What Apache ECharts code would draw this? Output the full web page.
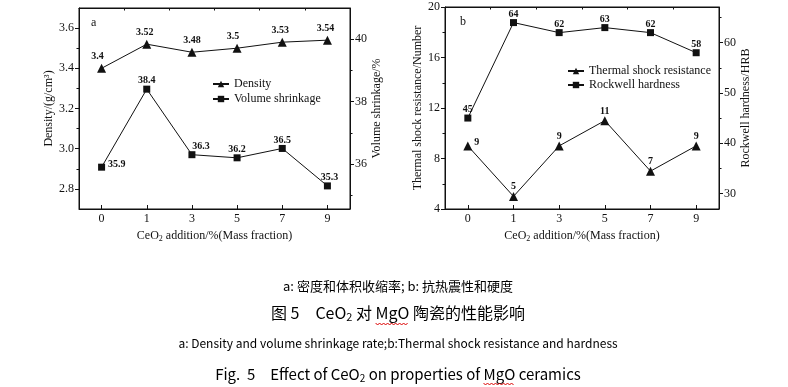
<!DOCTYPE html>
<html><head><meta charset="utf-8">
<script src="https://cdn.jsdelivr.net/npm/echarts@6/dist/echarts.min.js"></script>
<style>html,body{margin:0;padding:0;background:#fff}#c{width:788px;height:387px}</style>
</head><body><div id="c"></div>
<script>
const categories = ['0', '1', '3', '5', '7', '9'];
const density = [3.4, 3.52, 3.48, 3.5, 3.53, 3.54];
const shrinkage = [35.9, 38.4, 36.3, 36.2, 36.5, 35.3];
const thermal = [9, 5, 9, 11, 7, 9];
const hardness = [45, 64, 62, 63, 62, 58];
const densityTicks = [2.8, 3.0, 3.2, 3.4, 3.6];
const densityMinor = [2.9, 3.1, 3.3, 3.5];
const shrinkTicks = [36, 38, 40];
const shrinkMinor = [35, 37, 39];
const thermalTicks = [4, 8, 12, 16, 20];
const thermalMinor = [6, 10, 14, 18];
const hardnessTicks = [30, 40, 50, 60];
const hardnessMinor = [35, 45, 55, 65];

const SERIF = '"Liberation Serif","Times New Roman",serif';
const CJK = '"Noto Sans CJK SC","Noto Sans",sans-serif';
const BLACK = '#111';

function yPair(grid, pos, min, max, major, minor, name, nameGap, fmt) {
  return [{
    type: 'value', gridIndex: grid, position: pos, min: min, max: max,
    axisLine: {show: true, lineStyle: {color: BLACK, width: 1}},
    axisTick: {show: true, inside: false, length: 4, customValues: major, lineStyle: {color: BLACK}},
    axisLabel: {show: true, customValues: major, margin: 5, color: BLACK, fontFamily: SERIF, fontSize: 12,
      formatter: fmt || (v => String(v))},
    splitLine: {show: false},
    name: name, nameLocation: 'middle', nameGap: nameGap, nameRotate: 90,
    nameTextStyle: {color: BLACK, fontFamily: SERIF, fontSize: 12}
  }, {
    type: 'value', gridIndex: grid, position: pos, min: min, max: max,
    axisLine: {show: false},
    axisTick: {show: true, inside: false, length: 2.5, customValues: minor, lineStyle: {color: BLACK}},
    axisLabel: {show: false},
    splitLine: {show: false}
  }];
}

function xSet(grid) {
  return [{
    type: 'category', gridIndex: grid, data: categories, boundaryGap: true,
    axisLine: {show: true, lineStyle: {color: BLACK}},
    axisTick: {show: true, alignWithLabel: true, inside: true, length: 4, lineStyle: {color: BLACK}},
    axisLabel: {margin: 4, color: BLACK, fontFamily: SERIF, fontSize: 12},
    splitLine: {show: false},
    name: 'CeO{s|2} addition/%(Mass fraction)', nameLocation: 'middle', nameGap: 14,
    nameTextStyle: {color: BLACK, fontFamily: SERIF, fontSize: 12,
      rich: {s: {fontFamily: SERIF, fontSize: 8, color: BLACK, padding: [7, 0, 0, 0]}}}
  }, {
    type: 'category', gridIndex: grid, data: categories, boundaryGap: true,
    axisLine: {show: false},
    axisTick: {show: true, inside: true, length: 2.5, lineStyle: {color: BLACK}},
    axisLabel: {show: false},
    splitLine: {show: false}
  }, {
    type: 'category', gridIndex: grid, data: categories, boundaryGap: true, position: 'top',
    axisLine: {show: true, lineStyle: {color: BLACK}},
    axisTick: {show: false}, axisLabel: {show: false}, splitLine: {show: false}
  }];
}

const lblBase = {show: true, color: BLACK, fontFamily: SERIF, fontSize: 10, fontWeight: 'bold'};

function mk(values, tweaks) {
  return values.map((v, i) => tweaks[i] ? {value: v, label: tweaks[i]} : v);
}

const densityLbl = [{offset: [-4, 0]}, {offset: [-2, 0]}, null, {offset: [-4, 0]}, {offset: [-2, 0]}, {offset: [-2, 0]}];
const shrinkLbl = [{position: 'right', distance: 3, offset: [0, -3]}, null, {offset: [9, 0]}, null, null, {offset: [2, 0]}];
const thermalLbl = [{position: 'right', distance: 2, offset: [0, -3]}, null, null, null, null, null];
const hardnessLbl = [null, null, null, null, null, null];

const series = [
  {name: 'Density', type: 'line', xAxisIndex: 0, yAxisIndex: 0, data: mk(density, densityLbl),
   symbol: 'triangle', symbolSize: 9, lineStyle: {color: BLACK, width: 1}, itemStyle: {color: BLACK},
   label: Object.assign({position: 'top', distance: 2}, lblBase)},
  {name: 'Volume shrinkage', type: 'line', xAxisIndex: 0, yAxisIndex: 2, data: mk(shrinkage, shrinkLbl),
   symbol: 'rect', symbolSize: 7, lineStyle: {color: BLACK, width: 1}, itemStyle: {color: BLACK},
   label: Object.assign({position: 'top', distance: 0}, lblBase)},
  {name: 'Thermal shock resistance', type: 'line', xAxisIndex: 3, yAxisIndex: 4, data: mk(thermal, thermalLbl),
   symbol: 'triangle', symbolSize: 9, lineStyle: {color: BLACK, width: 1}, itemStyle: {color: BLACK},
   label: Object.assign({position: 'top', distance: 0}, lblBase)},
  {name: 'Rockwell hardness', type: 'line', xAxisIndex: 3, yAxisIndex: 6, data: mk(hardness, hardnessLbl),
   symbol: 'rect', symbolSize: 7, lineStyle: {color: BLACK, width: 1}, itemStyle: {color: BLACK},
   label: Object.assign({position: 'top', distance: 0}, lblBase)}
];

// measure caption text so the red spell-check underline sits under "MgO"
const ctx = document.createElement('canvas').getContext('2d');
function w(txt, font) { ctx.font = font; return ctx.measureText(txt).width; }
function wavyUnder(parts, cx, y) {
  // parts: [[text, font, isTarget]]
  let total = 0; parts.forEach(p => total += w(p[0], p[1]));
  let x = cx - total / 2, x0 = 0, x1 = 0;
  parts.forEach(p => { const ww = w(p[0], p[1]); if (p[2]) { x0 = x; x1 = x + ww; } x += ww; });
  const pts = []; let up = true;
  for (let xx = x0; xx <= x1; xx += 2) { pts.push([xx, y + (up ? -1 : 1)]); up = !up; }
  return {type: 'polyline', shape: {points: pts}, style: {stroke: '#d00', lineWidth: 1, fill: null}, silent: true};
}

const F16 = '16px ' + CJK, F15 = '15px ' + CJK, F11 = '11px ' + CJK, F10 = '10px ' + CJK;
const legendText = {color: BLACK, fontFamily: SERIF, fontSize: 12};
const center = {align: 'center', verticalAlign: 'middle', textAlign: 'center', textVerticalAlign: 'middle'};

const option = {
  backgroundColor: '#fff',
  animation: false,
  grid: [
    {left: 79, top: 8, width: 271, height: 201, show: true, borderColor: BLACK, borderWidth: 1, backgroundColor: 'transparent'},
    {left: 445, top: 7, width: 274, height: 202, show: true, borderColor: BLACK, borderWidth: 1, backgroundColor: 'transparent'}
  ],
  xAxis: [...xSet(0), ...xSet(1)],
  yAxis: [
    ...yPair(0, 'left', 2.7, 3.7, densityTicks, densityMinor, 'Density/(g/cm³)', 21, v => v.toFixed(1)),
    ...yPair(0, 'right', 34.56, 41, shrinkTicks, shrinkMinor, 'Volume shrinkage/%', 18),
    ...yPair(1, 'left', 4, 20, thermalTicks, thermalMinor, 'Thermal shock resistance/Number', 18),
    ...yPair(1, 'right', 26.9, 67.1, hardnessTicks, hardnessMinor, 'Rockwell hardness/HRB', 20)
  ],
  legend: [
    {data: ['Density', 'Volume shrinkage'], orient: 'vertical', left: 212, top: 78, itemWidth: 16, itemHeight: 8,
     itemGap: 3, textStyle: legendText, padding: 0},
    {data: ['Thermal shock resistance', 'Rockwell hardness'], orient: 'vertical', left: 567, top: 65, itemWidth: 16, itemHeight: 8,
     itemGap: 2, textStyle: legendText, padding: 0}
  ],
  series: series,
  graphic: [
    {type: 'text', x: 91, y: 17, style: {text: 'a', font: '12px ' + SERIF, fill: BLACK}},
    {type: 'text', x: 460, y: 16, style: {text: 'b', font: '12px ' + SERIF, fill: BLACK}},
    {type: 'text', x: 398, y: 286, style: Object.assign({text: 'a: 密度和体积收缩率; b: 抗热震性和硬度', font: '13px ' + CJK, fill: '#000'}, center)},
    {type: 'text', x: 398, y: 313, style: Object.assign({text: '图 5　CeO{s|2} 对 MgO 陶瓷的性能影响', font: F16, fill: '#000',
      rich: {s: {font: F11, fill: '#000', padding: [8, 0, 0, 0]}}}, center)},
    {type: 'text', x: 398, y: 343, style: Object.assign({text: 'a: Density and volume shrinkage rate;b:Thermal shock resistance and hardness', font: '12px ' + CJK, fill: '#000'}, center)},
    {type: 'text', x: 398, y: 374, style: Object.assign({text: 'Fig.  5　Effect of CeO{s|2} on properties of MgO ceramics', font: F15, fill: '#000',
      rich: {s: {font: F10, fill: '#000', padding: [8, 0, 0, 0]}}}, center)},
    wavyUnder([['图 5　CeO', F16], ['2', F11], [' 对 ', F16], ['MgO', F16, true], [' 陶瓷的性能影响', F16]], 398, 324),
    wavyUnder([['Fig.  5　Effect of CeO', F15], ['2', F10], [' on properties of ', F15], ['MgO', F15, true], [' ceramics', F15]], 398, 384)
  ]
};

const chart = echarts.init(document.getElementById('c'), null, {renderer: 'canvas'});
chart.setOption(option);
</script>
</body></html>
